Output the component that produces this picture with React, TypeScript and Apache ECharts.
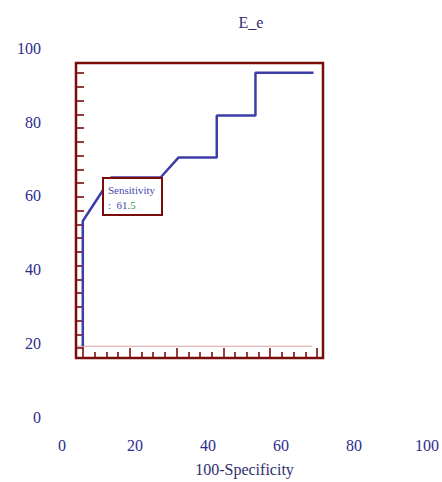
import React, { useEffect, useRef } from "react";
import * as echarts from "echarts";

const titleText = "E_e";
const xAxisName = "100-Specificity";
const xTickValues = [0, 20, 40, 60, 80, 100];
const yTickValues = [0, 20, 40, 60, 80, 100];

// ROC step curve
const rocX = [5.7, 5.7, 13.5, 27.0, 31.9, 42.4, 42.4, 53.0, 53.0, 68.9];
const rocY = [19.2, 53.2, 65.0, 65.0, 70.4, 70.4, 81.8, 81.8, 93.4, 93.4];

// light reference line along the bottom
const refX = [3.8, 68.6];
const refY = [19.2, 19.2];

const tipLabel = "Sensitivity";
const tipValue = "61.";
const tipValueTail = "5";

const FONT = "'Liberation Serif', 'DejaVu Serif', serif";
const LABEL = "#2c2c8c";
const FRAME = "#7a0c0c";
const CURVE = "#3d3da8";

export default function App() {
  const ref = useRef<HTMLDivElement>(null);
  useEffect(() => {
    document.body.style.margin = "0";
    if (!ref.current) return;
    const chart = echarts.init(ref.current, null, { renderer: "svg" });
    const option: any = {
      animation: false,
      backgroundColor: "#ffffff",
      title: {
        text: titleText,
        left: 246,
        textAlign: "center",
        top: 9,
        textStyle: { fontFamily: FONT, fontSize: 16, fontWeight: "normal", color: "#2e2e6e" },
      },
      grid: [
        { left: 62, right: 10, top: 48.5, bottom: 63 },
        { left: 83, top: 73, width: 234, height: 275 },
      ],
      xAxis: [
        {
          type: "value",
          gridIndex: 0,
          min: xTickValues[0],
          max: xTickValues[xTickValues.length - 1],
          interval: 20,
          axisLine: { show: false },
          axisTick: { show: false },
          splitLine: { show: false },
          axisLabel: { margin: 20, fontFamily: FONT, fontSize: 16, color: LABEL },
          name: xAxisName,
          nameLocation: "middle",
          nameGap: 44,
          nameTextStyle: { fontFamily: FONT, fontSize: 16, color: "#2e2e6e" },
        },
        {
          type: "value",
          gridIndex: 1,
          min: 0,
          max: 5,
          interval: 1,
          position: "bottom",
          offset: 9,
          axisLine: { show: false, onZero: false },
          axisLabel: { show: false },
          splitLine: { show: false },
          axisTick: { show: true, inside: true, length: 9, lineStyle: { color: FRAME, width: 1.6 } },
          minorTick: { show: true, splitNumber: 4, length: 5, lineStyle: { color: FRAME, width: 1.6 } },
        },
      ],
      yAxis: [
        {
          type: "value",
          gridIndex: 0,
          min: yTickValues[0],
          max: yTickValues[yTickValues.length - 1],
          interval: 20,
          axisLine: { show: false },
          axisTick: { show: false },
          splitLine: { show: false },
          axisLabel: { margin: 21, fontFamily: FONT, fontSize: 16, color: LABEL },
        },
        {
          type: "value",
          gridIndex: 1,
          min: 0,
          max: 20,
          interval: 1,
          position: "left",
          offset: 7,
          axisLine: { show: false, onZero: false },
          axisLabel: { show: false },
          splitLine: { show: false },
          axisTick: { show: true, inside: true, length: 8, lineStyle: { color: FRAME, width: 1.6 } },
        },
      ],
      series: [
        {
          type: "line",
          xAxisIndex: 0,
          yAxisIndex: 0,
          data: refX.map((x, i) => [x, refY[i]]),
          symbol: "none",
          lineStyle: { color: "#d9a3a3", width: 1.2 },
          z: 1,
        },
        {
          type: "line",
          xAxisIndex: 0,
          yAxisIndex: 0,
          data: rocX.map((x, i) => [x, rocY[i]]),
          symbol: "none",
          lineStyle: { color: CURVE, width: 2.5 },
          z: 3,
        },
      ],
      graphic: [
        {
          type: "rect",
          shape: { x: 76, y: 63, width: 247, height: 295 },
          style: { fill: "none", stroke: FRAME, lineWidth: 2.5 },
          z: 50,
        },
        {
          type: "group",
          z: 100,
          children: [
            {
              type: "rect",
              shape: { x: 103, y: 178, width: 59, height: 37 },
              style: { fill: "#ffffff", stroke: FRAME, lineWidth: 2 },
              z: 100,
            },
            {
              type: "text",
              x: 108,
              y: 184,
              style: { text: tipLabel, fontFamily: FONT, fontSize: 11, fill: "#4a4ab0" },
              z: 101,
            },
            {
              type: "text",
              x: 108,
              y: 199,
              style: {
                text: "{a|:  " + tipValue + "}{b|" + tipValueTail + "}",
                fontFamily: FONT,
                fontSize: 11,
                rich: {
                  a: { fontFamily: FONT, fontSize: 11, fill: "#4a4ab0", color: "#4a4ab0" },
                  b: { fontFamily: FONT, fontSize: 11, fill: "#2f9a3a", color: "#2f9a3a" },
                },
              },
              z: 101,
            },
          ],
        },
      ],
    };
    chart.setOption(option);
    return () => chart.dispose();
  }, []);
  return <div ref={ref} style={{ width: 442, height: 482 }} />;
}
